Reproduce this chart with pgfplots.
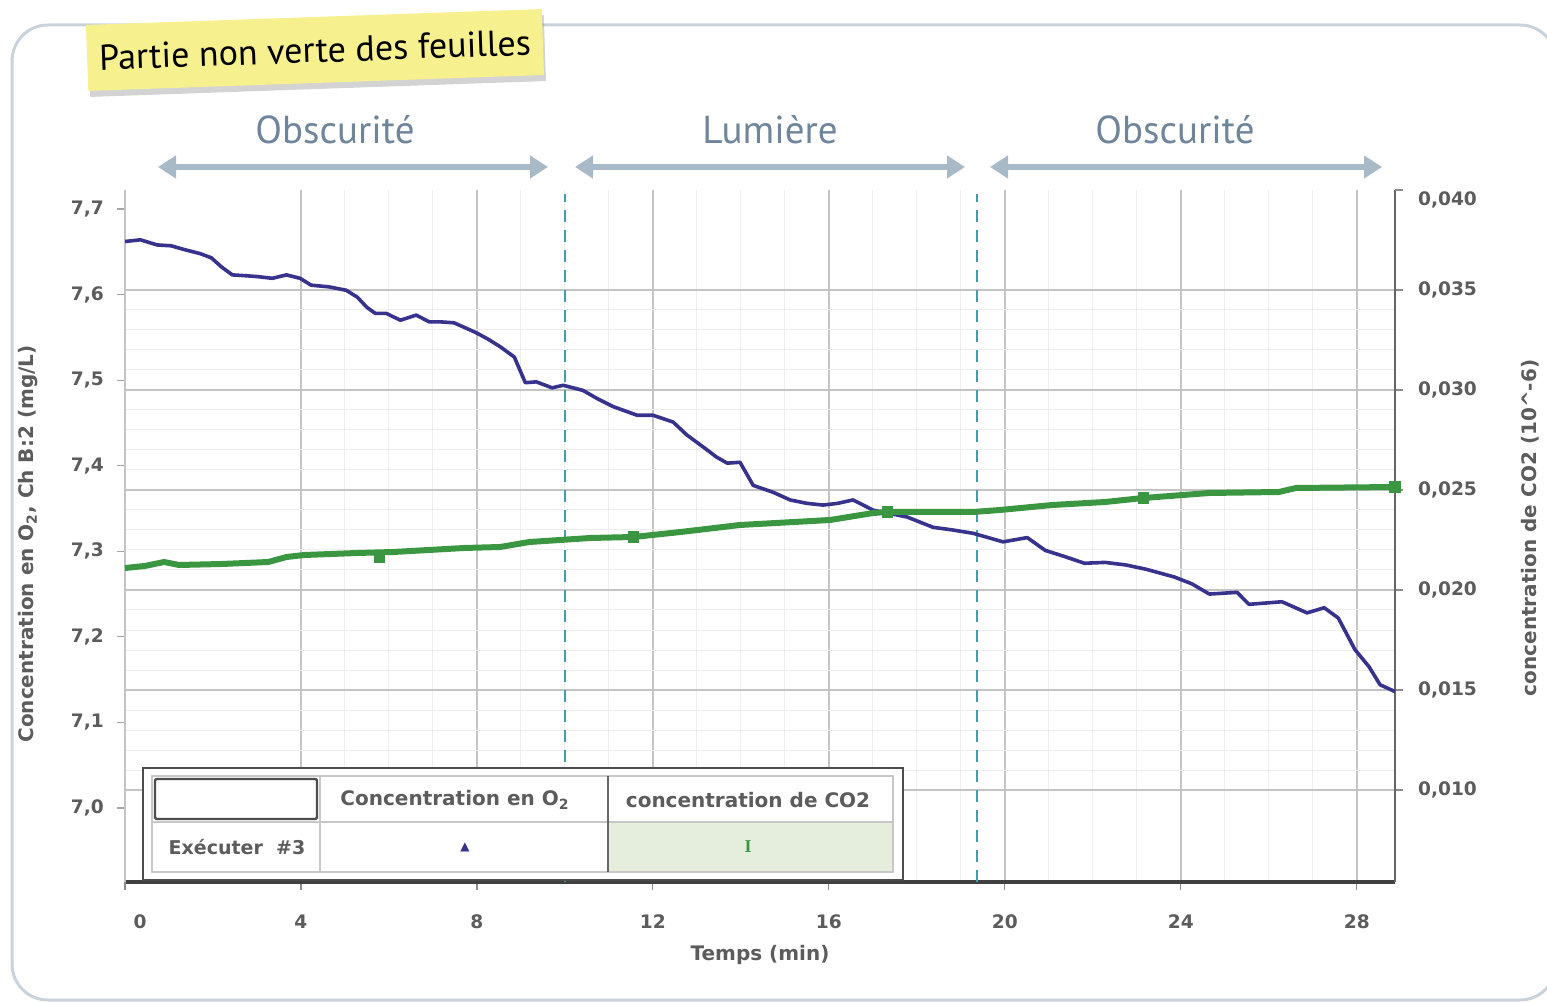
\documentclass[border=0pt]{standalone}
\usepackage{pgfplots}
\pgfplotsset{compat=1.18}
\usepackage{fontspec}
\setmainfont{DejaVu Sans}
\newfontfamily\ptsans{PT Sans}
\newfontfamily\serifb{Liberation Serif}
\usetikzlibrary{arrows.meta,shadows}
\definecolor{o2col}{RGB}{55,50,140}
\definecolor{co2col}{RGB}{58,150,65}
\definecolor{gridmaj}{RGB}{196,196,196}
\definecolor{gridmin}{RGB}{238,238,238}
\definecolor{dashcol}{RGB}{63,159,176}
\definecolor{arrowcol}{RGB}{168,185,200}
\definecolor{arrowtext}{RGB}{110,133,155}
\definecolor{framecol}{RGB}{201,211,220}
\definecolor{notecol}{RGB}{246,240,142}
\definecolor{tickcol}{RGB}{92,92,92}
\definecolor{legfill}{RGB}{229,238,221}
\begin{document}
\begin{tikzpicture}
\begin{scope}[x=1pt,y=1pt]
\useasboundingbox (0,0) rectangle (773.5,501);
\draw[framecol, line width=1.5pt, rounded corners=18pt] (6,1) rectangle (778,488.5);
% sticky note
\node[rotate=2, fill=notecol, minimum width=228pt, minimum height=33pt, inner sep=0pt,
      drop shadow={opacity=0.35, shadow xshift=1pt, shadow yshift=-3pt}]
      at (157.5,476) {\ptsans\fontsize{18}{20}\selectfont Partie non verte des feuilles};
% phase arrows
\foreach \a/\b/\c/\lab in {79/274/167.5/Obscurité, 287.5/482.5/385/Lumière, 495/691/587.5/Obscurité}{
  \draw[arrowcol, line width=3pt, {Triangle[length=9pt,width=11pt]}-{Triangle[length=9pt,width=11pt]}] (\a,417.5) -- (\b,417.5);
  \node[text=arrowtext] at (\c,436) {\ptsans\fontsize{19.5}{21}\selectfont \lab};
}
\end{scope}
% axis 1: CO2 axis with grid
\begin{axis}[
  at={(62.5pt,60pt)}, anchor=south west, scale only axis, width=635pt, height=346pt,
  xmin=0, xmax=28.87, ymin=0.0054, ymax=0.040,
  axis x line*=bottom, axis y line*=right,
  x axis line style={-, line width=1.6pt, color=black!75},
  y axis line style={-, line width=1pt, color=black!60},
  xtick={4,8,12,16,20,24,28},
  extra x ticks={0}, extra x tick style={grid=none, tick label style={xshift=7.5pt}},
  ytick={0.010,0.015,0.020,0.025,0.030,0.035},
  extra y ticks={0.040}, extra y tick style={grid=none, tick label style={yshift=-5pt}},
  scaled y ticks=false,
  /pgf/number format/assume math mode=true,
  y tick label style={/pgf/number format/fixed, /pgf/number format/fixed zerofill, /pgf/number format/precision=3, /pgf/number format/use comma},
  tick label style={font=\bfseries\fontsize{9.3}{10}\selectfont, text=tickcol},
  x tick label style={yshift=-9pt},
  y tick label style={xshift=4pt},
  tick style={black!45, line width=0.6pt}, major tick length=4pt, minor tick length=0pt,
  tick align=outside,
  grid=both, minor x tick num=3, minor y tick num=4,
  major grid style={color=gridmaj, line width=0.9pt},
  minor grid style={color=gridmin, line width=0.5pt},
  clip=false,
]
\addplot[dashcol, line width=1pt, dash pattern=on 6pt off 4pt] coordinates {(10,0.0054) (10,0.0398)};
\addplot[dashcol, line width=1pt, dash pattern=on 6pt off 4pt] coordinates {(19.37,0.0054) (19.37,0.0398)};
\end{axis}
% axis 2: O2
\begin{axis}[
  at={(62.5pt,60pt)}, anchor=south west, scale only axis, width=635pt, height=346pt,
  xmin=0, xmax=28.87, ymin=6.9135, ymax=7.7222,
  axis y line*=left, hide x axis,
  y axis line style={-, line width=0.6pt, color=gridmaj},
  ytick={7.0,7.1,7.2,7.3,7.4,7.5,7.6,7.7},
  /pgf/number format/assume math mode=true,
  y tick label style={/pgf/number format/fixed, /pgf/number format/fixed zerofill, /pgf/number format/precision=1, /pgf/number format/use comma},
  tick label style={font=\bfseries\fontsize{9.3}{10}\selectfont, text=tickcol},
  y tick label style={xshift=-3pt},
  tick style={black!35, line width=0.6pt}, major tick length=4pt, tick align=outside,
]
\addplot[o2col, line width=1.8pt, line join=round] coordinates {
(0.00,7.662)(0.35,7.664)(0.73,7.658)(1.05,7.657)(1.39,7.652)(1.70,7.648)(1.96,7.643)(2.20,7.632)(2.44,7.623)(2.75,7.622)(3.01,7.621)(3.35,7.619)(3.67,7.623)(3.98,7.619)(4.23,7.611)(4.64,7.609)(5.03,7.605)(5.28,7.597)(5.50,7.585)(5.69,7.578)(5.94,7.578)(6.26,7.570)(6.62,7.576)(6.92,7.568)(7.20,7.568)(7.48,7.567)(7.96,7.556)(8.25,7.548)(8.53,7.539)(8.85,7.527)(9.10,7.497)(9.35,7.498)(9.71,7.491)(9.96,7.494)(10.41,7.488)(10.75,7.478)(11.10,7.469)(11.64,7.459)(12.00,7.459)(12.46,7.451)(12.77,7.436)(13.14,7.422)(13.45,7.410)(13.69,7.403)(13.98,7.404)(14.28,7.377)(14.73,7.369)(15.12,7.360)(15.50,7.356)(15.87,7.354)(16.20,7.356)(16.55,7.360)(17.01,7.348)(17.40,7.344)(17.78,7.340)(18.37,7.328)(18.80,7.325)(19.28,7.321)(19.96,7.311)(20.51,7.316)(20.92,7.301)(21.35,7.294)(21.81,7.286)(22.28,7.287)(22.75,7.284)(23.21,7.279)(23.85,7.270)(24.25,7.262)(24.65,7.250)(25.28,7.252)(25.55,7.238)(26.30,7.241)(26.87,7.228)(27.26,7.234)(27.58,7.222)(27.96,7.185)(28.28,7.165)(28.53,7.144)(28.87,7.136)};
\end{axis}
% axis 3: CO2 curve on top
\begin{axis}[
  at={(62.5pt,60pt)}, anchor=south west, scale only axis, width=635pt, height=346pt,
  xmin=0, xmax=28.87, ymin=0.0054, ymax=0.040, hide axis,
  scaled y ticks=false, clip=false,
]
\addplot[co2col, line width=3pt, line join=round] coordinates {
(0,0.0211)(0.45,0.0212)(0.89,0.0214)(1.23,0.02125)(2.20,0.0213)(3.26,0.0214)(3.67,0.02165)(4.08,0.02175)(5.28,0.02185)(6.10,0.0219)(7.71,0.0221)(8.53,0.02215)(9.19,0.0224)(9.89,0.0225)(10.58,0.0226)(11.56,0.02265)(12.63,0.0229)(13.98,0.02325)(16.03,0.0235)(17.01,0.02385)(17.33,0.0239)(19.28,0.0239)(19.89,0.0240)(21.08,0.02425)(22.28,0.0244)(23.15,0.0246)(24.65,0.02485)(26.23,0.0249)(26.62,0.0251)(28.87,0.02515)};
\addplot[co2col, only marks, mark=square*, mark size=2.6pt] coordinates {
(5.78,0.02165)(11.56,0.02265)(17.33,0.0239)(23.15,0.0246)(28.87,0.02515)};
\end{axis}
\begin{scope}[x=1pt,y=1pt]
% axis labels
\node[rotate=90, text=tickcol, font=\bfseries\fontsize{10}{11}\selectfont] at (14,229) {Concentration en O\textsubscript{2}, Ch B:2 (mg/L)};
\node[rotate=90, text=tickcol, font=\bfseries\fontsize{10}{11}\selectfont] at (765,237) {concentration de CO2 (10\^{}-6)};
\node[text=tickcol, font=\bfseries\fontsize{10}{11}\selectfont] at (380,23.5) {Temps (min)};
% legend table
\fill[white] (71.5,61) rectangle (451.5,117);
\fill[legfill] (304,65) rectangle (446.5,90);
\draw[black!22, line width=1pt] (76,65) rectangle (446.5,113);
\draw[black!22, line width=1pt] (76,90) -- (446.5,90);
\draw[black!22, line width=1pt] (160,65) -- (160,113);
\draw[black!60, line width=1pt] (304,65) -- (304,113);
\draw[black!70, line width=1.2pt, rounded corners=1pt, fill=white] (77.5,91.5) rectangle (158.5,111.5);
\draw[black!70, line width=1.3pt] (71.5,61) rectangle (451.5,117);
\node[text=tickcol, font=\bfseries\fontsize{10}{11}\selectfont] at (227.5,101) {Concentration en O\textsubscript{2}};
\node[text=tickcol, font=\bfseries\fontsize{10}{11}\selectfont] at (374,101) {concentration de CO2};
\node[text=tickcol, font=\bfseries\fontsize{9.5}{10}\selectfont] at (118.5,77.5) {Exécuter\ \ \#3};
\node[text=o2col, font=\fontsize{6}{7}\selectfont] at (232.5,77.5) {▲};
\node[text=co2col, font=\serifb\bfseries\fontsize{9}{10}\selectfont] at (374,77.5) {I};
\end{scope}
\end{tikzpicture}
\end{document}
